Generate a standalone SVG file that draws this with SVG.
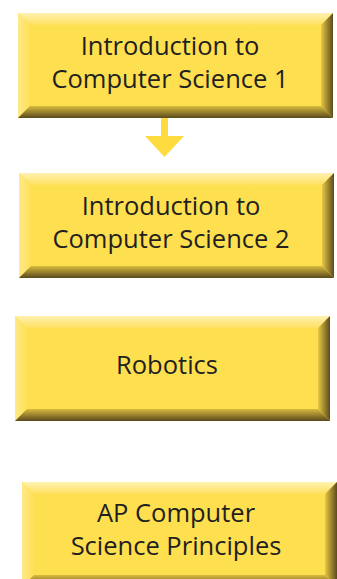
<svg xmlns="http://www.w3.org/2000/svg" xmlns:xlink="http://www.w3.org/1999/xlink" width="337" height="579" viewBox="0 0 337 579">
<style>
.lbl{font-family:"Open Sans","Liberation Sans",sans-serif;font-size:25.5px;fill:#231f20;text-anchor:middle}
.face{fill:#fedf4f}
</style>
<defs>
<linearGradient id="gTop" x1="0" y1="0" x2="0" y2="1"><stop offset="0" stop-color="#fff2b0"/><stop offset="1" stop-color="#fee060"/></linearGradient>
<linearGradient id="gLeft" x1="0" y1="0" x2="1" y2="0"><stop offset="0" stop-color="#ffe98a"/><stop offset="1" stop-color="#fee055"/></linearGradient>
<linearGradient id="gRight" x1="0" y1="0" x2="1" y2="0"><stop offset="0" stop-color="#e8c843"/><stop offset="1" stop-color="#5c4b1e"/></linearGradient>
<linearGradient id="gBot" x1="0" y1="0" x2="0" y2="1"><stop offset="0" stop-color="#d9bb3e"/><stop offset="1" stop-color="#5a491d"/></linearGradient>
<g id="btn">
<rect class="face" x="0" y="0" width="315" height="105"/>
<polygon points="0,0 315,0 303,12 12,12" fill="url(#gTop)"/>
<polygon points="0,0 12,12 12,93 0,105" fill="url(#gLeft)"/>
<polygon points="315,0 315,105 303,93 303,12" fill="url(#gRight)"/>
<polygon points="0,105 12,93 303,93 315,105" fill="url(#gBot)"/>
</g>
</defs>
<g id="connectors">
<polygon points="161,118 168,118 168,136 184,136 164.5,157 145,136 161,136" fill="#fedb3f"/>
</g>
<g id="node1">
<use xlink:href="#btn" href="#btn" x="18" y="13"/>
<text class="lbl" x="170" y="55">Introduction to</text>
<text class="lbl" x="170" y="88">Computer Science 1</text>
</g>
<g id="node2">
<use xlink:href="#btn" href="#btn" x="19" y="173"/>
<text class="lbl" x="171" y="215">Introduction to</text>
<text class="lbl" x="171" y="248">Computer Science 2</text>
</g>
<g id="node3">
<use xlink:href="#btn" href="#btn" x="15" y="316"/>
<text class="lbl" x="167" y="374">Robotics</text>
</g>
<g id="node4">
<use xlink:href="#btn" href="#btn" x="22" y="482"/>
<text class="lbl" x="176" y="522">AP Computer</text>
<text class="lbl" x="176" y="555">Science Principles</text>
</g>
</svg>
